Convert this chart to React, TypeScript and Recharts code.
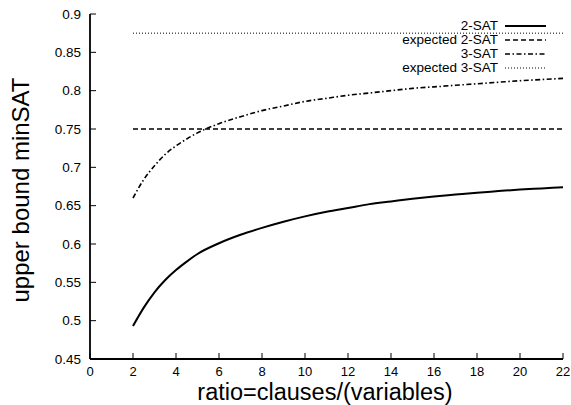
import React from 'react';
import { LineChart, Line, XAxis, YAxis, Legend } from 'recharts';

const ratios = [2, 2.5, 3, 3.5, 4, 4.5, 5, 6, 7, 8, 9, 10, 11, 12, 13, 14, 15, 16, 17, 18, 19, 20, 21, 22];
const twoSat = [0.493, 0.517, 0.537, 0.553, 0.566, 0.577, 0.587, 0.601, 0.612, 0.621, 0.629, 0.636, 0.642, 0.647, 0.652, 0.6555, 0.659, 0.662, 0.6645, 0.667, 0.669, 0.671, 0.6725, 0.674];
const threeSat = [0.660, 0.684, 0.702, 0.717, 0.728, 0.737, 0.745, 0.757, 0.766, 0.774, 0.780, 0.786, 0.790, 0.794, 0.797, 0.800, 0.803, 0.805, 0.807, 0.809, 0.811, 0.813, 0.8145, 0.816];
const expectedRatios = [2, 22];
const expected2Sat = [0.75, 0.75];
const expected3Sat = [0.875, 0.875];

const xTicks = [0, 2, 4, 6, 8, 10, 12, 14, 16, 18, 20, 22];
const yTicks = [0.45, 0.5, 0.55, 0.6, 0.65, 0.7, 0.75, 0.8, 0.85, 0.9];
const seriesNames = ['2-SAT', 'expected 2-SAT', '3-SAT', 'expected 3-SAT'];

const FONT = '"Liberation Sans", Arial, Helvetica, sans-serif';

const twoSatData = ratios.map((x, i) => ({ x, y: twoSat[i] }));
const threeSatData = ratios.map((x, i) => ({ x, y: threeSat[i] }));
const exp2Data = expectedRatios.map((x, i) => ({ x, y: expected2Sat[i] }));
const exp3Data = expectedRatios.map((x, i) => ({ x, y: expected3Sat[i] }));

const styles: Record<string, { width: number; dash?: string }> = {
  '2-SAT': { width: 2 },
  'expected 2-SAT': { width: 1.5, dash: '5 3' },
  '3-SAT': { width: 1.6, dash: '5 2.5 1.5 2.5' },
  'expected 3-SAT': { width: 1, dash: '1 2' },
};

const TICK_LEN = 6;

const BottomTick = (props: any) => {
  const { x, y, payload } = props;
  const axisY = y - 17;
  return (
    <g>
      <line x1={x} x2={x} y1={axisY} y2={axisY - TICK_LEN} stroke="#000" strokeWidth={1} />
      <text x={x} y={y} textAnchor="middle" fontSize={13} fontFamily={FONT} fill="#000">
        {String(payload.value)}
      </text>
    </g>
  );
};

const TopTick = (props: any) => {
  const { x, y } = props;
  return <line x1={x} x2={x} y1={y} y2={y + TICK_LEN} stroke="#000" strokeWidth={1} />;
};

const LeftTick = (props: any) => {
  const { x, y, payload } = props;
  const axisX = x + 9;
  return (
    <g>
      <line x1={axisX} x2={axisX + TICK_LEN} y1={y} y2={y} stroke="#000" strokeWidth={1} />
      <text x={x} y={y} dy="0.35em" textAnchor="end" fontSize={13.5} fontFamily={FONT} fill="#000">
        {String(Number(payload.value.toFixed(2)))}
      </text>
    </g>
  );
};

const RightTick = (props: any) => {
  const { x, y } = props;
  return <line x1={x} x2={x - TICK_LEN} y1={y} y2={y} stroke="#000" strokeWidth={1} />;
};

const LegendContent = () => (
  <div style={{ fontFamily: FONT, fontSize: 13.5, color: '#000' }}>
    {seriesNames.map((name) => (
      <div key={name} style={{ display: 'flex', alignItems: 'center', height: 14, lineHeight: '14px' }}>
        <span style={{ flex: 1, textAlign: 'right', whiteSpace: 'nowrap' }}>{name}</span>
        <svg width={48} height={14} style={{ display: 'block' }}>
          <line
            x1={7}
            x2={48}
            y1={7}
            y2={7}
            stroke="#000"
            strokeWidth={styles[name].width}
            strokeDasharray={styles[name].dash}
          />
        </svg>
      </div>
    ))}
  </div>
);

export default function App() {
  const axisLineStyle = { stroke: '#000', strokeWidth: 1.8 };
  return (
    <div style={{ position: 'absolute', left: 0, top: 0, width: 571, height: 405, background: '#fff' }}>
      <LineChart width={571} height={405} margin={{ top: 14, right: 8, bottom: 0, left: 0 }}>
        <XAxis
          xAxisId="bottom"
          type="number"
          dataKey="x"
          domain={[0, 22]}
          ticks={xTicks}
          allowDataOverflow
          height={46}
          tickLine={false}
          tickSize={0}
          tickMargin={17}
          axisLine={axisLineStyle}
          tick={<BottomTick />}
          interval={0}
          label={{
            content: () => (
              <text x={325} y={400} textAnchor="middle" fontSize={23.5} fontFamily={FONT} fill="#000">
                ratio=clauses/(variables)
              </text>
            ),
          }}
        />
        <XAxis
          xAxisId="top"
          orientation="top"
          type="number"
          dataKey="x"
          domain={[0, 22]}
          ticks={xTicks}
          allowDataOverflow
          height={0}
          tickLine={false}
          tickSize={0}
          tickMargin={0}
          axisLine={axisLineStyle}
          tick={<TopTick />}
          interval={0}
        />
        <YAxis
          yAxisId="left"
          type="number"
          domain={[0.45, 0.9]}
          ticks={yTicks}
          allowDataOverflow
          width={90}
          tickLine={false}
          tickSize={0}
          tickMargin={9}
          axisLine={axisLineStyle}
          tick={<LeftTick />}
          interval={0}
          label={{
            content: () => (
              <text
                x={28.5}
                y={190}
                transform="rotate(-90 28.5 190)"
                textAnchor="middle"
                fontSize={24}
                fontFamily={FONT}
                fill="#000"
              >
                upper bound minSAT
              </text>
            ),
          }}
        />
        <YAxis
          yAxisId="right"
          orientation="right"
          type="number"
          domain={[0.45, 0.9]}
          ticks={yTicks}
          allowDataOverflow
          width={0}
          tickLine={false}
          tickSize={0}
          tickMargin={0}
          axisLine={axisLineStyle}
          tick={<RightTick />}
          interval={0}
        />
        <Legend
          layout="horizontal"
          verticalAlign="middle"
          align="center"
          content={<LegendContent />}
          wrapperStyle={{ position: 'absolute', left: 380, top: 19, width: 166, height: 56 }}
        />
        <Line
          xAxisId="bottom"
          yAxisId="left"
          name={seriesNames[0]}
          data={twoSatData}
          dataKey="y"
          type="monotone"
          stroke="#000"
          strokeWidth={styles['2-SAT'].width}
          dot={false}
          isAnimationActive={false}
        />
        <Line
          xAxisId="bottom"
          yAxisId="left"
          name={seriesNames[1]}
          data={exp2Data}
          dataKey="y"
          type="linear"
          stroke="#000"
          strokeWidth={styles['expected 2-SAT'].width}
          strokeDasharray={styles['expected 2-SAT'].dash}
          dot={false}
          isAnimationActive={false}
        />
        <Line
          xAxisId="bottom"
          yAxisId="left"
          name={seriesNames[2]}
          data={threeSatData}
          dataKey="y"
          type="monotone"
          stroke="#000"
          strokeWidth={styles['3-SAT'].width}
          strokeDasharray={styles['3-SAT'].dash}
          dot={false}
          isAnimationActive={false}
        />
        <Line
          xAxisId="bottom"
          yAxisId="left"
          name={seriesNames[3]}
          data={exp3Data}
          dataKey="y"
          type="linear"
          stroke="#000"
          strokeWidth={styles['expected 3-SAT'].width}
          strokeDasharray={styles['expected 3-SAT'].dash}
          dot={false}
          isAnimationActive={false}
        />
      </LineChart>
    </div>
  );
}
